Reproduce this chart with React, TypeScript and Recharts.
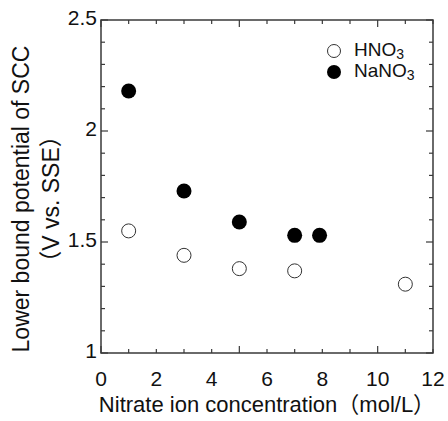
import React from 'react';
import { ScatterChart, Scatter, XAxis, YAxis, ReferenceArea } from 'recharts';

// x = nitrate ion concentration (mol/L), y = lower bound potential (V vs. SSE)
const hno3X = [1, 3, 5, 7, 11];
const hno3Y = [1.55, 1.44, 1.38, 1.37, 1.31];
const nano3X = [1, 3, 5, 7, 7.9];
const nano3Y = [2.18, 1.73, 1.59, 1.53, 1.53];

const xTicks = [0, 1, 2, 3, 4, 5, 6, 7, 8, 9, 10, 11, 12];
const xLabels = [0, 2, 4, 6, 8, 10, 12];
const xMajor = [0, 5, 10];
const yTicks = [1, 1.1, 1.2, 1.3, 1.4, 1.5, 1.6, 1.7, 1.8, 1.9, 2, 2.1, 2.2, 2.3, 2.4, 2.5];
const yLabels = [1, 1.5, 2, 2.5];

const hno3 = hno3X.map((x, i) => ({ x, y: hno3Y[i] }));
const nano3 = nano3X.map((x, i) => ({ x, y: nano3Y[i] }));

const FONT = '"Liberation Sans", Arial, "Noto Sans CJK JP", sans-serif';
const AXIS = '#3a3a3a';
const TXT = '#111';

const W = 448;
const H = 421;
const M = { top: 20, right: 15, left: 0, bottom: 0 };
const PLOT_TOP = M.top;
const PLOT_RIGHT = W - M.right;

const near = (arr: number[], v: number) => arr.some((a) => Math.abs(a - v) < 1e-6);

// inward ticks on the bottom and (mirrored) top edges
const XTick = ({ x, y, payload }: any) => {
  const v = payload.value;
  const len = near(xMajor, v) ? 7 : 4;
  return (
    <g>
      <line x1={x} x2={x} y1={y} y2={y - len} stroke={AXIS} strokeWidth={1.2} />
      <line x1={x} x2={x} y1={PLOT_TOP} y2={PLOT_TOP + len} stroke={AXIS} strokeWidth={1.2} />
      {near(xLabels, v) && (
        <text x={x} y={y + 33} textAnchor="middle" fontSize={21} fontFamily={FONT} fill={TXT} stroke="none">
          {v}
        </text>
      )}
    </g>
  );
};

// inward ticks on the left and (mirrored) right edges
const YTick = ({ x, y, payload }: any) => {
  const v = payload.value;
  const len = near(yLabels, v) ? 7 : 4;
  return (
    <g>
      <line x1={x} x2={x + len} y1={y} y2={y} stroke={AXIS} strokeWidth={1.2} />
      <line x1={PLOT_RIGHT} x2={PLOT_RIGHT - len} y1={y} y2={y} stroke={AXIS} strokeWidth={1.2} />
      {near(yLabels, v) && (
        <text x={x - 4} y={y + 5} textAnchor="end" fontSize={21} fontFamily={FONT} fill={TXT} stroke="none">
          {v}
        </text>
      )}
    </g>
  );
};

const OpenDot = ({ cx, cy }: any) => (
  <circle cx={cx} cy={cy} r={7} fill="#fff" stroke="#333" strokeWidth={1} />
);
const FilledDot = ({ cx, cy }: any) => <circle cx={cx} cy={cy} r={7.5} fill="#000" />;

const sub = { fontSize: 14, verticalAlign: 'baseline', position: 'relative' as const, top: 3 };

export default function App() {
  return (
    <div style={{ position: 'absolute', left: 0, top: 0, width: W, height: H, background: '#fff', fontFamily: FONT, color: TXT }}>
      <ScatterChart width={W} height={H} margin={M}>
        <XAxis
          xAxisId="b"
          type="number"
          dataKey="x"
          domain={[0, 12]}
          ticks={xTicks}
          interval={0}
          height={68}
          tickSize={0}
          tickMargin={0}
          tick={<XTick />}
          axisLine={false}
          allowDataOverflow
        />
        <YAxis
          yAxisId="l"
          type="number"
          dataKey="y"
          domain={[1, 2.5]}
          ticks={yTicks}
          interval={0}
          width={101}
          tickSize={0}
          tickMargin={0}
          tick={<YTick />}
          axisLine={false}
          allowDataOverflow
        />
        {/* plot frame */}
        <ReferenceArea
          xAxisId="b"
          yAxisId="l"
          x1={0}
          x2={12}
          y1={1}
          y2={2.5}
          fill="none"
          stroke={AXIS}
          strokeWidth={1.5}
        />
        <Scatter name="HNO3" data={hno3} xAxisId="b" yAxisId="l" shape={<OpenDot />} isAnimationActive={false} />
        <Scatter name="NaNO3" data={nano3} xAxisId="b" yAxisId="l" shape={<FilledDot />} isAnimationActive={false} />
      </ScatterChart>

      {/* axis titles */}
      <div style={{ position: 'absolute', left: 96, width: 342, top: 392, textAlign: 'center', fontSize: 22, lineHeight: '26px', whiteSpace: 'nowrap' }}>
        Nitrate ion concentration（mol/L）
      </div>
      <div
        style={{
          position: 'absolute', left: 36, top: 199, width: 340, fontSize: 23, lineHeight: '30px',
          textAlign: 'center', whiteSpace: 'nowrap', transform: 'translate(-50%, -50%) rotate(-90deg)',
        }}
      >
        <div>Lower bound potential of SCC</div>
        <div>（V vs. SSE）</div>
      </div>

      {/* legend */}
      <div style={{ position: 'absolute', left: 326, top: 40, fontSize: 19, lineHeight: '21px' }}>
        <div style={{ display: 'flex', alignItems: 'center', height: 21 }}>
          <svg width={16} height={16} style={{ marginRight: 12 }}>
            <circle cx={8} cy={8} r={6.5} fill="#fff" stroke="#333" strokeWidth={1} />
          </svg>
          <span>HNO<span style={sub}>3</span></span>
        </div>
        <div style={{ display: 'flex', alignItems: 'center', height: 21 }}>
          <svg width={16} height={16} style={{ marginRight: 12 }}>
            <circle cx={8} cy={8} r={7} fill="#000" />
          </svg>
          <span>NaNO<span style={sub}>3</span></span>
        </div>
      </div>
    </div>
  );
}
